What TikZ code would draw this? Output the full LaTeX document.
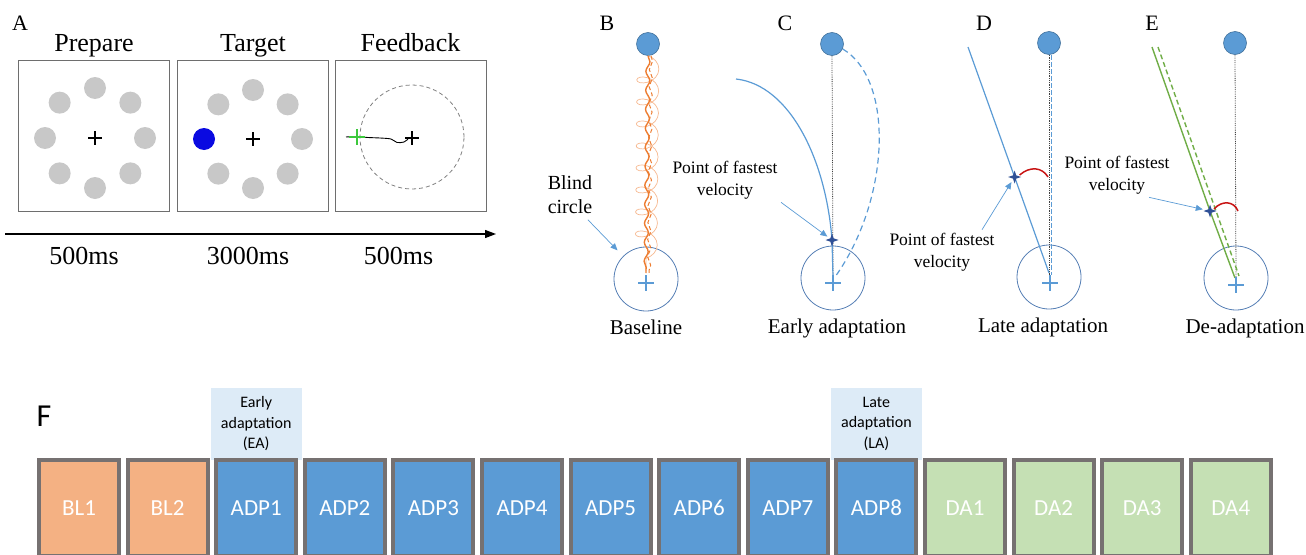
\documentclass[tikz,border=0pt]{standalone}
\usepackage{fontspec}
\setmainfont{Liberation Serif}
\newfontfamily\calib{Carlito}
\usetikzlibrary{positioning,arrows.meta,calc,backgrounds,shapes.geometric,decorations.pathmorphing}
\definecolor{dotGray}{RGB}{200,200,200}
\definecolor{cueBlue}{RGB}{10,10,225}
\definecolor{tgtBlue}{RGB}{91,155,213}
\definecolor{tgtEdge}{RGB}{65,113,156}
\definecolor{ringBlue}{RGB}{84,126,180}
\definecolor{starBlue}{RGB}{47,80,150}
\definecolor{pathOrange}{RGB}{237,125,49}
\definecolor{coilOrange}{RGB}{246,184,144}
\definecolor{pathGreen}{RGB}{112,173,71}
\definecolor{curlGreen}{RGB}{60,200,60}
\definecolor{angleRed}{RGB}{200,20,20}
\definecolor{frameGray}{RGB}{110,110,110}
\definecolor{blOrange}{RGB}{244,177,131}
\definecolor{adpBlue}{RGB}{91,155,213}
\definecolor{daGreen}{RGB}{197,224,180}
\definecolor{noteBlue}{RGB}{221,235,247}
\definecolor{edgeGray}{RGB}{118,113,113}

\begin{document}
\begin{tikzpicture}[
    x=1pt, y=-1pt,
    trial box/.style={rectangle, draw=frameGray, line width=0.9pt, minimum width=151pt, minimum height=151pt, inner sep=0pt, outer sep=0pt},
    title text/.style={font=\fontsize{26pt}{31pt}\selectfont, text height=0.7em, text depth=0.3em},
    panel tag/.style={font=\fontsize{22pt}{26pt}\selectfont},
    caption text/.style={font=\fontsize{21pt}{25pt}\selectfont},
    note text/.style={font=\fontsize{17.5pt}{21.5pt}\selectfont, align=center},
    target dot/.style={circle, draw=tgtEdge, line width=0.6pt, fill=tgtBlue, minimum size=23pt, inner sep=0pt},
    blind ring/.style={circle, draw=ringBlue, line width=0.8pt, minimum size=64pt, inner sep=0pt},
    vmax/.style={star, star points=4, star point ratio=2.8, fill=starBlue, minimum size=13pt, inner sep=0pt},
    home cross/.style={draw=tgtBlue, line width=2.6pt},
    pointer/.style={-{Triangle[length=7pt,width=6pt]}, draw=tgtBlue, line width=0.7pt},
    ideal line/.style={densely dotted, draw=black!75, line width=0.8pt},
    angle mark/.style={draw=angleRed, line width=1.5pt},
    phase box/.style={rectangle, draw=edgeGray, line width=4pt, minimum width=80pt, minimum height=96pt, inner sep=0pt, outer sep=0pt, text=white, font=\calib\fontsize{23pt}{27pt}\selectfont},
    phase note/.style={rectangle, fill=noteBlue, minimum width=91pt, minimum height=72pt, inner sep=0pt, align=center, font=\calib\fontsize{16pt}{20.5pt}\selectfont}
]
  \useasboundingbox (0,0) rectangle (1306,554);
  \clip (0,0) rectangle (1306,554);

  \node[panel tag] (tagA) at (20,23) {A};
  \node[trial box] (prep) at (94,136) {};
  \node[trial box, right=8pt of prep] (targ) {};
  \node[trial box, right=6.5pt of targ] (fdbk) {};
  \node[title text, above=2.5pt of prep] (preptitle) {Prepare};
  \node[title text, above=2.5pt of targ] (targtitle) {Target};
  \node[title text, above=2.5pt of fdbk] (fdbktitle) {Feedback};

  \coordinate (prepmid) at (95,138);
  \coordinate (targmid) at (253,139);
  \coordinate (fdbkmid) at (412,137);
  \foreach \a in {0,45,...,315}
    \fill[dotGray] ($(prepmid)+(\a:50)$) circle[radius=11pt];
  \foreach \a in {0,45,90,135,225,270,315}
    \fill[dotGray] ($(targmid)+(\a:49)$) circle[radius=11pt];
  \fill[cueBlue] ($(targmid)+(180:49)$) circle[radius=11pt];
  \draw[line width=2.2pt] ($(prepmid)+(-7,0)$) -- ++(14,0) ($(prepmid)+(0,-7)$) -- ++(0,14);
  \draw[line width=2.2pt] ($(targmid)+(-7,0)$) -- ++(14,0) ($(targmid)+(0,-7)$) -- ++(0,14);

  \draw[gray, line width=0.8pt, dash pattern=on 4pt off 3pt] (fdbkmid) circle[radius=52pt];
  \draw[line width=0.9pt] plot[smooth] coordinates {(346,137) (356,136.5) (368,137.5) (380,138) (391,139) (397,142.5) (404,142) (408,139)};
  \draw[line width=2.2pt] (405,138) -- ++(14,0) (412,131) -- ++(0,14);
  \draw[curlGreen, line width=2.4pt] (349,137) -- ++(16,0) (357,129) -- ++(0,16);

  \coordinate (tstart) at (5,234);
  \coordinate (tend) at (496,234);
  \draw[-{Triangle[length=11pt,width=8pt]}, line width=1.3pt] (tstart) -- (tend);
  \node[title text, below=42pt of prep, xshift=-10pt] (preptime) {500ms};
  \node[title text, below=42pt of targ, xshift=-5pt] (targtime) {3000ms};
  \node[title text, below=42pt of fdbk, xshift=-12pt] (fdbktime) {500ms};

  \node[panel tag] (tagB) at (607,23) {B};
  \node[target dot] (tgtB) at (648,44) {};
  \node[blind ring] (blindB) at (646,279) {};
  \coordinate (homeB) at (646,283);
  \draw[coilOrange, line width=0.7pt, decorate, decoration={coil, amplitude=11pt, segment length=22pt, aspect=0.7}] (tgtB.south) -- ($(homeB)+(0,-12)$);
  \draw[pathOrange, line width=1.4pt, decorate, decoration={snake, amplitude=2pt, segment length=19pt}] (tgtB.south) -- ($(homeB)+(0,-10)$);
  \draw[pathOrange, line width=1pt, dash pattern=on 4pt off 2.5pt, decorate, decoration={snake, amplitude=1.6pt, segment length=17pt}] ($(tgtB.south)+(3,0)$) -- ($(homeB)+(3,-10)$);
  \draw[home cross] ($(homeB)+(-8,0)$) -- ++(16,0) ($(homeB)+(0,-8)$) -- ++(0,16);
  \node[font=\fontsize{20pt}{24pt}\selectfont, align=left] (blindlbl) at (570,195) {Blind\\circle};
  \draw[pointer, shorten <=3pt, shorten >=8pt] ([xshift=-10pt]blindlbl.south east) -- (blindB.north west);
  \node[caption text, below=5pt of blindB] (capB) {Baseline};

  \node[panel tag] (tagC) at (785,23) {C};
  \node[target dot] (tgtC) at (832,44) {};
  \node[blind ring] (blindC) at (833,278) {};
  \coordinate (homeC) at (833,283);
  \coordinate (startC) at (736,79);
  \coordinate (peakC) at (832,240);
  \draw[ideal line] (tgtC.south) -- ($(homeC)+(0,-6)$);
  \draw[tgtBlue, line width=1.2pt] (startC) .. controls (790,85) and (826,160) .. (peakC) -- ($(homeC)+(0,-6)$);
  \draw[tgtBlue, line width=1.2pt, dash pattern=on 6pt off 4pt] (tgtC.-25) .. controls (895,80) and (890,200) .. ($(homeC)+(2,-6)$);
  \draw[home cross] ($(homeC)+(-8,0)$) -- ++(16,0) ($(homeC)+(0,-8)$) -- ++(0,16);
  \node[vmax] (vmaxC) at (peakC) {};
  \node[note text] (noteC) at (725,180) {Point of fastest\\velocity};
  \draw[pointer, shorten >=3pt] (noteC.south east) -- (vmaxC);
  \node[caption text, below=5pt of blindC, xshift=4pt] (capC) {Early adaptation};

  \node[panel tag] (tagD) at (984,23) {D};
  \node[target dot] (tgtD) at (1049,43) {};
  \node[blind ring] (blindD) at (1049,277) {};
  \coordinate (homeD) at (1050,283);
  \coordinate (startD) at (968,47);
  \coordinate (peakD) at (1014.6,177);
  \draw[ideal line] (tgtD.south) -- ($(homeD)+(-1,-8)$);
  \draw[tgtBlue, line width=1pt, dash pattern=on 5pt off 2pt] ($(tgtD.south)+(2,0)$) -- ($(homeD)+(1,-8)$);
  \draw[tgtBlue, line width=1.2pt] (startD) -- (peakD) -- ($(homeD)+(-1,-10)$);
  \draw[angle mark] ($(peakD)+(5,-2)$) .. controls (1030,166) and (1042,167) .. (1048,177);
  \draw[home cross] ($(homeD)+(-8,0)$) -- ++(16,0) ($(homeD)+(0,-8)$) -- ++(0,16);
  \node[vmax] (vmaxD) at (peakD) {};
  \node[note text] (noteD) at (942,252) {Point of fastest\\velocity};
  \draw[pointer, shorten >=3pt] ([xshift=-16pt]noteD.north east) -- (vmaxD);
  \node[caption text, below=5pt of blindD, xshift=-6pt] (capD) {Late adaptation};

  \node[panel tag] (tagE) at (1152,23) {E};
  \node[target dot] (tgtE) at (1235,43) {};
  \node[blind ring] (blindE) at (1236,278) {};
  \coordinate (homeE) at (1236,285);
  \coordinate (startE) at (1152,47);
  \coordinate (peakE) at (1210,211);
  \draw[ideal line] (tgtE.south) -- ($(homeE)+(0,-8)$);
  \draw[pathGreen, line width=1.4pt] (startE) -- (peakE) -- ($(homeE)+(-1,-7)$);
  \draw[pathGreen, line width=1.4pt, dash pattern=on 5pt off 3pt] ($(startE)+(6,0)$) -- ($(homeE)+(3,-9)$);
  \draw[angle mark] ($(peakE)+(4,-2)$) .. controls (1222,200) and (1234,201) .. (1238,211);
  \draw[home cross] ($(homeE)+(-8,0)$) -- ++(16,0) ($(homeE)+(0,-8)$) -- ++(0,16);
  \node[vmax] (vmaxE) at (peakE) {};
  \node[note text] (noteE) at (1117,175) {Point of fastest\\velocity};
  \draw[pointer, shorten >=3pt] ([xshift=-24pt]noteE.south east) -- (vmaxE);
  \node[caption text, below=5pt of blindE, xshift=9pt] (capE) {De-adaptation};

  \node[font=\calib\fontsize{32pt}{36pt}\selectfont] (tagF) at (44,416) {F};
  \coordinate (box0) at (30.4,508);
  \foreach \lab/\col [count=\i] in {BL1/blOrange, BL2/blOrange, ADP1/adpBlue, ADP2/adpBlue, ADP3/adpBlue, ADP4/adpBlue, ADP5/adpBlue, ADP6/adpBlue, ADP7/adpBlue, ADP8/adpBlue, DA1/daGreen, DA2/daGreen, DA3/daGreen, DA4/daGreen} {
    \pgfmathtruncatemacro{\j}{\i-1}
    \node[phase box, fill=\col, right=8.6pt of box\j] (box\i) {\lab};
  }
  \begin{scope}[on background layer]
    \node[phase note, above=0pt of box3] (eanote) {Early\\adaptation\\(EA)};
    \node[phase note, above=0pt of box10] (lanote) {Late\\adaptation\\(LA)};
  \end{scope}
\end{tikzpicture}
\end{document}
